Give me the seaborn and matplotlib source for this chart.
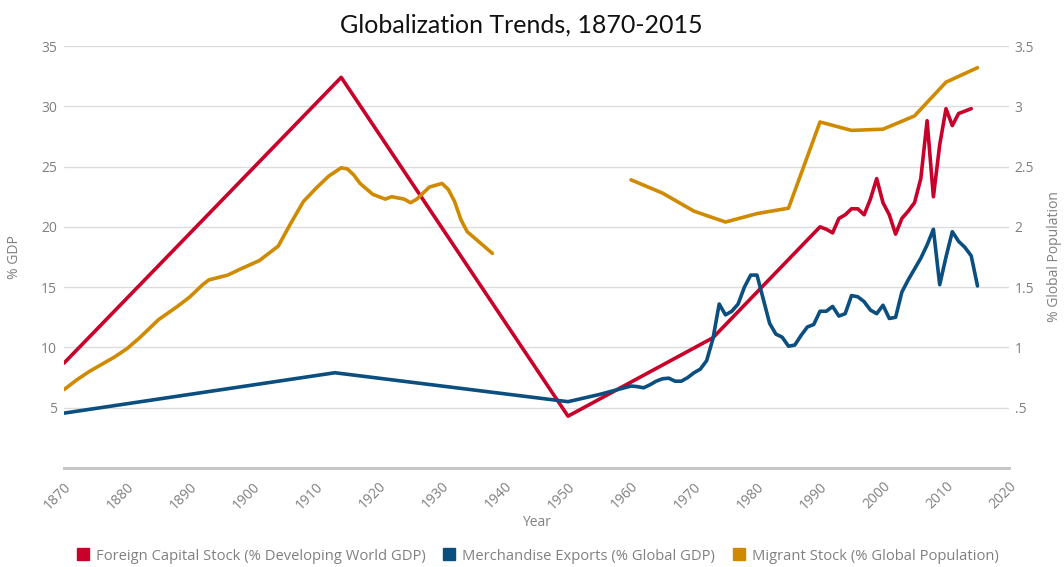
import pandas as pd
import matplotlib
matplotlib.use("Agg")
import matplotlib.pyplot as plt
from matplotlib.lines import Line2D
import seaborn as sns

# Foreign capital stock (% developing world GDP), left axis
fcs_years = [1870, 1914, 1950, 1973, 1990, 1991, 1992, 1993, 1994, 1995, 1996, 1997,
             1998, 1999, 2000, 2001, 2002, 2003, 2004, 2005, 2006, 2007, 2008, 2009,
             2010, 2011, 2012, 2013, 2014]
fcs_values = [8.7, 32.4, 4.3, 10.8, 20.0, 19.8, 19.5, 20.7, 21.0, 21.5, 21.5, 21.0,
              22.3, 24.0, 22.0, 21.0, 19.4, 20.7, 21.3, 22.0, 24.0, 28.8, 22.5, 26.8,
              29.8, 28.4, 29.4, 29.6, 29.8]

# Merchandise exports (% global GDP), left axis
exp_years = [1870, 1913, 1950, 1955, 1960, 1961, 1962, 1963, 1964, 1965, 1966, 1967,
             1968, 1969, 1970, 1971, 1972, 1973, 1974, 1975, 1976, 1977, 1978, 1979,
             1980, 1981, 1982, 1983, 1984, 1985, 1986, 1987, 1988, 1989, 1990, 1991,
             1992, 1993, 1994, 1995, 1996, 1997, 1998, 1999, 2000, 2001, 2002, 2003,
             2004, 2005, 2006, 2007, 2008, 2009, 2010, 2011, 2012, 2013, 2014, 2015]
exp_values = [4.55, 7.9, 5.5, 6.1, 6.8, 6.75, 6.65, 6.9, 7.2, 7.4, 7.45, 7.2,
              7.2, 7.5, 7.9, 8.2, 8.9, 10.7, 13.6, 12.7, 13.0, 13.6, 15.0, 16.0,
              16.0, 14.0, 12.0, 11.1, 10.85, 10.1, 10.2, 11.0, 11.7, 11.9, 13.0, 13.0,
              13.4, 12.6, 12.8, 14.3, 14.2, 13.8, 13.1, 12.8, 13.5, 12.4, 12.5, 14.6,
              15.6, 16.5, 17.4, 18.5, 19.8, 15.2, 17.5, 19.6, 18.8, 18.3, 17.6, 15.1]

# Migrant stock (% global population), right axis; two separate runs
mig_years_early = [1870, 1872, 1874, 1876, 1878, 1880, 1882, 1884, 1885, 1888, 1890,
                   1892, 1893, 1896, 1898, 1901, 1904, 1906, 1908, 1910, 1912, 1914,
                   1915, 1916, 1917, 1919, 1921, 1922, 1924, 1925, 1926, 1928, 1930,
                   1931, 1932, 1933, 1934, 1936, 1938]
mig_values_early = [0.65, 0.73, 0.80, 0.86, 0.92, 0.99, 1.08, 1.18, 1.23, 1.34, 1.42,
                    1.52, 1.56, 1.60, 1.65, 1.72, 1.84, 2.03, 2.21, 2.32, 2.42, 2.49,
                    2.48, 2.43, 2.36, 2.27, 2.23, 2.25, 2.23, 2.20, 2.23, 2.33, 2.36,
                    2.31, 2.21, 2.06, 1.96, 1.87, 1.78]
mig_years_late = [1960, 1965, 1970, 1975, 1980, 1985, 1990, 1995, 2000, 2005, 2010, 2015]
mig_values_late = [2.39, 2.28, 2.13, 2.04, 2.11, 2.155, 2.87, 2.80, 2.81, 2.92, 3.20, 3.32]

labels = ["Foreign Capital Stock (% Developing World GDP)",
          "Merchandise Exports (% Global GDP)",
          "Migrant Stock (% Global Population)"]
colors = ["#c8002a", "#0a4f80", "#d08a00"]

fcs = pd.DataFrame({"Year": fcs_years, "value": fcs_values})
exp = pd.DataFrame({"Year": exp_years, "value": exp_values})
mig = pd.concat([
    pd.DataFrame({"Year": mig_years_early, "value": mig_values_early, "seg": 0}),
    pd.DataFrame({"Year": mig_years_late, "value": mig_values_late, "seg": 1}),
])

sns.set_style("white")
plt.rcParams["font.family"] = ["Open Sans", "DejaVu Sans"]
grey = "#808080"

fig = plt.figure(figsize=(10.64, 5.67), dpi=100)
ax = fig.add_axes([64 / 1064, 99 / 567, 945 / 1064, 422 / 567])
ax2 = ax.twinx()

sns.lineplot(data=fcs, x="Year", y="value", ax=ax, color=colors[0], linewidth=2.6)
sns.lineplot(data=exp, x="Year", y="value", ax=ax, color=colors[1], linewidth=2.6)
sns.lineplot(data=mig, x="Year", y="value", units="seg", estimator=None, ax=ax2,
             color=colors[2], linewidth=2.6)

ax.set_xlim(1870, 2020)
ax.set_ylim(0, 35)
ax2.set_ylim(0, 3.5)
ax.set_xticks(range(1870, 2021, 10))
ax.set_yticks(range(5, 36, 5))
ax2.set_yticks([0.5, 1, 1.5, 2, 2.5, 3, 3.5])
ax2.set_yticklabels([".5", "1", "1.5", "2", "2.5", "3", "3.5"])

ax.grid(axis="y", color="#dcdcdc", linewidth=1)
ax.grid(axis="x", visible=False)
ax2.grid(False)
for a in (ax, ax2):
    for s in ("left", "right", "top"):
        a.spines[s].set_visible(False)
    a.spines["bottom"].set_color("#c6c6c6")
    a.spines["bottom"].set_linewidth(2)

ax.tick_params(axis="x", colors="#c6c6c6", length=5, width=2, labelcolor=grey,
               labelsize=10, pad=3)
ax.tick_params(axis="y", length=0, labelcolor=grey, labelsize=10, pad=5)
ax2.tick_params(axis="y", length=0, labelcolor=grey, labelsize=10, pad=4)
for lab in ax.get_xticklabels():
    lab.set_rotation(45)
    lab.set_ha("right")
    lab.set_va("top")
    lab.set_rotation_mode("anchor")

ax.set_xlabel("Year", color=grey, fontsize=10, labelpad=0)
ax.xaxis.set_label_coords(0.5, -(523 - 468) / 422)
ax.set_ylabel("% GDP", color=grey, fontsize=10)
ax.yaxis.set_label_coords((15 - 64) / 945, 0.5)
ax2.set_ylabel("% Global Population", color=grey, fontsize=10, rotation=90)
ax2.yaxis.set_label_coords((1055 - 64) / 945, 0.5)
ax.xaxis.label.set_va("center")
ax.yaxis.label.set_va("center")
ax2.yaxis.label.set_va("center")

fig.text(521 / 1064, 1 - 25 / 567, "Globalization Trends, 1870-2015",
         ha="center", va="center", fontsize=18, color="#111111",
         family=["Lato", "DejaVu Sans"])

handles = [Line2D([], [], marker="s", linestyle="none", markersize=8,
                  color=c) for c in colors]
fig.legend(handles, labels, loc="center", bbox_to_anchor=(537 / 1064, 1 - 556 / 567),
           ncol=3, frameon=False, fontsize=10.6, labelcolor=grey,
           handletextpad=0.4, columnspacing=1.1, handlelength=1.0)

fig.savefig("out.png", dpi=100)
